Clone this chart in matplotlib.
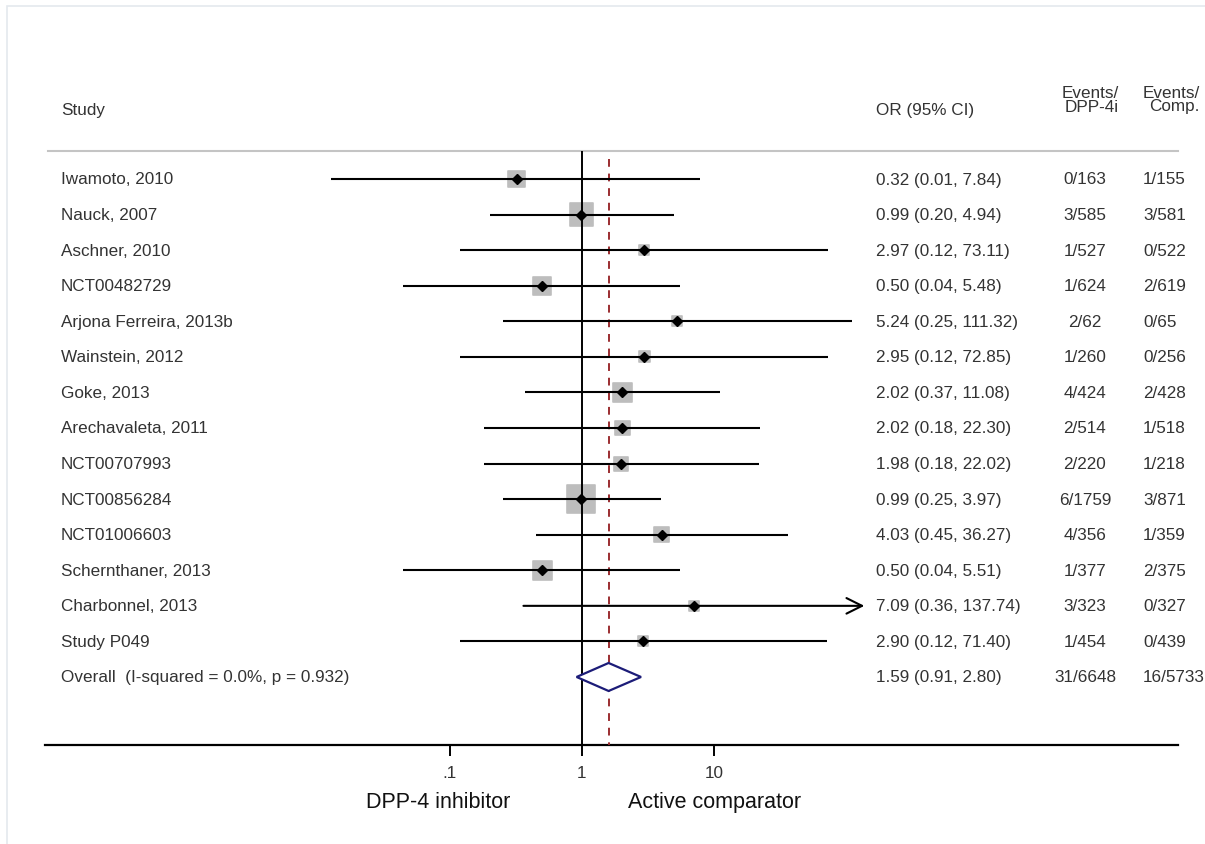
import numpy as np
import matplotlib.pyplot as plt
from matplotlib.patches import Polygon, Rectangle

plt.rcParams['font.family'] = ['Liberation Sans', 'DejaVu Sans']

# ---- data ----
studies = ['Iwamoto, 2010', 'Nauck, 2007', 'Aschner, 2010', 'NCT00482729',
           'Arjona Ferreira, 2013b', 'Wainstein, 2012', 'Goke, 2013',
           'Arechavaleta, 2011', 'NCT00707993', 'NCT00856284', 'NCT01006603',
           'Schernthaner, 2013', 'Charbonnel, 2013', 'Study P049']
or_est = [0.32, 0.99, 2.97, 0.50, 5.24, 2.95, 2.02, 2.02, 1.98, 0.99, 4.03, 0.50, 7.09, 2.90]
ci_low = [0.0126, 0.20, 0.12, 0.044, 0.25, 0.12, 0.37, 0.18, 0.18, 0.25, 0.45, 0.044, 0.36, 0.12]
ci_high = [7.84, 4.94, 73.11, 5.48, 111.32, 72.85, 11.08, 22.30, 22.02, 3.97, 36.27, 5.51, 137.74, 71.40]
weights = [7.6, 13.9, 2.6, 8.5, 2.6, 3.2, 9.5, 5.9, 5.1, 20.6, 5.9, 9.5, 2.6, 2.6]
ev_dpp = ['0/163', '3/585', '1/527', '1/624', '2/62', '1/260', '4/424', '2/514',
          '2/220', '6/1759', '4/356', '1/377', '3/323', '1/454']
ev_comp = ['1/155', '3/581', '0/522', '2/619', '0/65', '0/256', '2/428', '1/518',
           '1/218', '3/871', '1/359', '2/375', '0/327', '0/439']

overall_label = 'Overall  (I-squared = 0.0%, p = 0.932)'
overall_or, overall_lo, overall_hi = 1.59, 0.91, 2.80
overall_dpp, overall_comp = '31/6648', '16/5733'

# ---- layout helpers (pixel based) ----
W, H = 1205, 845
X1, DEC = 582, 132          # pixel of OR=1, pixels per decade
Y0, DY = 180, 35.57         # first row pixel, row spacing


def row(py):
    return (py - Y0) / DY


def fx(px):
    return px / W


fig = plt.figure(figsize=(W / 100, H / 100), dpi=100)
ax = fig.add_axes([0, 0, 1, 1])
ax.set_xscale('log')
ax.set_xlim(10 ** (-X1 / DEC), 10 ** ((W - X1) / DEC))
ax.set_ylim(row(H), row(0))
ax.axis('off')
tr = ax.get_yaxis_transform()

txt = '#333333'
fs = 12.3

# faint frame
fig.patches.append(Rectangle((7 / W, -0.1), 1.2, 1.1 - 7 / H, transform=fig.transFigure,
                             fill=False, edgecolor='#e4e9ee', lw=1.2))

# headers
ax.text(fx(61), row(111), 'Study', transform=tr, ha='left', va='center', fontsize=fs, color=txt)
ax.text(fx(876), row(111), 'OR (95% CI)', transform=tr, ha='left', va='center', fontsize=fs, color=txt)
ax.text(fx(1119), row(94), 'Events/', transform=tr, ha='right', va='center', fontsize=fs, color=txt)
ax.text(fx(1119), row(107), 'DPP-4i', transform=tr, ha='right', va='center', fontsize=fs, color=txt)
ax.text(fx(1200), row(94), 'Events/', transform=tr, ha='right', va='center', fontsize=fs, color=txt)
ax.text(fx(1200), row(107), 'Comp.', transform=tr, ha='right', va='center', fontsize=fs, color=txt)

# header rule and bottom axis line
ax.plot([fx(48), fx(1178)], [row(152), row(152)], transform=tr, color='#c4c4c4', lw=1.5)
ax.plot([fx(45), fx(1178)], [row(746), row(746)], transform=tr, color='black', lw=1.6)

# reference lines
ax.vlines(1, row(152), row(746), color='black', lw=1.4, zorder=2)
ax.vlines(overall_or, row(160), row(746), color='#9b2d30', lw=1.4,
          linestyles=(0, (4, 3.5)), zorder=2)

# ticks
for t, lab in zip([0.1, 1, 10], ['.1', '1', '10']):
    ax.vlines(t, row(746), row(757), color='black', lw=1.4)
    ax.text(t, row(774), lab, ha='center', va='center', fontsize=fs, color=txt)

ax.text(fx(510), row(803), 'DPP-4 inhibitor', transform=tr, ha='right', va='center',
        fontsize=15.5, color='#111111')
ax.text(fx(628), row(803), 'Active comparator', transform=tr, ha='left', va='center',
        fontsize=15.5, color='#111111')

# study rows
ys = np.arange(len(studies))
ax.scatter(or_est, ys, s=np.array(weights) * 19.7, marker='s', color='#bdbdbd',
           edgecolor='#bdbdbd', linewidth=1.2, zorder=1)
imax = int(np.argmax(ci_high))
for i in range(len(studies)):
    if i == imax:
        ax.annotate('', xy=(ci_high[i], i), xytext=(ci_low[i], i),
                    arrowprops=dict(arrowstyle='->', lw=1.5, color='black',
                                    mutation_scale=28, shrinkA=0, shrinkB=0), zorder=3)
    else:
        ax.hlines(i, ci_low[i], ci_high[i], color='black', lw=1.5, zorder=3)
    ax.text(fx(61), i, studies[i], transform=tr, ha='left', va='center', fontsize=fs, color=txt)
    ax.text(fx(876), i, f'{or_est[i]:.2f} ({ci_low[i]:.2f}, {ci_high[i]:.2f})', transform=tr,
            ha='left', va='center', fontsize=fs, color=txt)
    ax.text(fx(1085), i, ev_dpp[i], transform=tr, ha='center', va='center', fontsize=fs, color=txt)
    ax.text(fx(1143), i, ev_comp[i], transform=tr, ha='left', va='center', fontsize=fs, color=txt)
ax.plot(or_est, ys, 'D', color='black', markersize=5, zorder=4)

# overall diamond
yo = len(studies)
h = 14 / DY
ax.add_patch(Polygon([(overall_lo, yo), (overall_or, yo - h), (overall_hi, yo), (overall_or, yo + h)],
                     closed=True, facecolor='white', edgecolor='#1c1c78', lw=1.6, zorder=4))
ax.text(fx(61), yo, overall_label, transform=tr, ha='left', va='center', fontsize=fs, color=txt)
ax.text(fx(876), yo, f'{overall_or:.2f} ({overall_lo:.2f}, {overall_hi:.2f})', transform=tr,
        ha='left', va='center', fontsize=fs, color=txt)
ax.text(fx(1085), yo, overall_dpp, transform=tr, ha='center', va='center', fontsize=fs, color=txt)
ax.text(fx(1143), yo, overall_comp, transform=tr, ha='left', va='center', fontsize=fs, color=txt)

fig.savefig('out.png', dpi=100)
